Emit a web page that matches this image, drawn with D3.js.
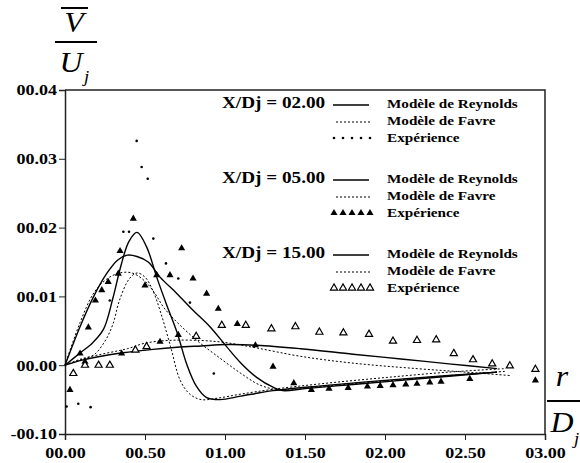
<!DOCTYPE html>
<html>
<head>
<meta charset="utf-8">
<script src="https://cdn.jsdelivr.net/npm/d3@7"></script>
<style>
  body { margin: 0; background: #fff; }
  svg { display: block; }
  text { font-family: "Liberation Serif", "Times New Roman", serif; fill: #000; }
</style>
</head>
<body>
<div id="chart"></div>
<script>
// r/Dj on x, Vbar/Uj on y
const xTicks = [0, 0.5, 1, 1.5, 2, 2.5, 3];
const xTickLabels = ['00.00', '00.50', '01.00', '01.50', '02.00', '02.50', '03.00'];
const yTicks = [-0.01, 0, 0.01, 0.02, 0.03, 0.04];
const yTickLabels = ['-00.10', '00.00', '00.01', '00.02', '00.03', '00.04'];

const reynolds2 = [[0, 0], [0.09, 0.0017], [0.17, 0.0032], [0.24, 0.0052], [0.30, 0.0098], [0.35, 0.0145], [0.40, 0.0180], [0.45, 0.0193], [0.51, 0.0172], [0.573, 0.0128], [0.635, 0.0088], [0.70, 0.0048], [0.76, 0.0002], [0.82, -0.003], [0.885, -0.0047], [0.97, -0.005], [1.1, -0.0045], [1.3, -0.0037], [1.6, -0.003], [2.0, -0.0022], [2.4, -0.0015], [2.7, -0.001]];
const favre2 = [[0, 0], [0.1, 0.0008], [0.18, 0.0015], [0.25, 0.0035], [0.3, 0.006], [0.34, 0.0094], [0.4, 0.0125], [0.45, 0.0134], [0.5, 0.0128], [0.55, 0.0108], [0.6, 0.0075], [0.66, 0.0027], [0.72, -0.0022], [0.78, -0.0042], [0.85, -0.005], [0.95, -0.0048], [1.1, -0.0042], [1.3, -0.0035], [1.6, -0.0027], [2.0, -0.0018], [2.4, -0.001], [2.75, -0.0005]];
const reynolds5 = [[0, 0], [0.094, 0.0056], [0.177, 0.0099], [0.26, 0.0133], [0.33, 0.0153], [0.39, 0.016], [0.45, 0.0158], [0.52, 0.015], [0.594, 0.0128], [0.70, 0.0104], [0.80, 0.008], [0.906, 0.0056], [1.01, 0.0027], [1.1, 0.0003], [1.2, -0.0018], [1.3, -0.0032], [1.36, -0.0037], [1.5, -0.0034], [1.8, -0.0028], [2.1, -0.0022], [2.4, -0.0016], [2.7, -0.001]];
const favre5 = [[0, 0], [0.094, 0.0062], [0.18, 0.0105], [0.26, 0.0125], [0.34, 0.0134], [0.42, 0.0134], [0.5, 0.0122], [0.56, 0.0105], [0.62, 0.0083], [0.72, 0.0058], [0.84, 0.0033], [0.97, 0.001], [1.1, -0.0012], [1.22, -0.0029], [1.35, -0.0036], [1.6, -0.0031], [2.0, -0.0023], [2.4, -0.0015], [2.75, -0.0009]];
const reynolds15 = [[0, 0], [0.1, 0.0007], [0.2, 0.0012], [0.36, 0.0018], [0.55, 0.0023], [0.7, 0.0026], [0.85, 0.0028], [1.01, 0.003], [1.2, 0.0029], [1.47, 0.0024], [1.8, 0.0016], [2.1, 0.0009], [2.4, 0.0002], [2.7, -0.0005]];
const favre15 = [[0, 0], [0.1, 0.0009], [0.25, 0.0017], [0.39, 0.0024], [0.5, 0.0032], [0.65, 0.0036], [0.84, 0.0036], [1.0, 0.0033], [1.2, 0.0025], [1.47, 0.0013], [1.8, 0.0003], [2.2, -0.0005], [2.5, -0.001], [2.78, -0.0015]];

const exp2 = [[0.01, -0.006], [0.083, -0.0056], [0.16, -0.0061], [0.28, 0.0094], [0.365, 0.0194], [0.40, 0.0194], [0.448, 0.0326], [0.479, 0.0288], [0.517, 0.0271], [0.552, 0.0184], [0.631, 0.0148], [0.708, 0.0126], [0.781, 0.0091], [0.93, -0.0012]];
const exp5 = [[0.031, -0.0036], [0.094, 0.0017], [0.125, 0.0005], [0.146, 0.0055], [0.19, 0.0094], [0.23, 0.0109], [0.27, 0.0121], [0.333, 0.0133], [0.344, 0.0166], [0.354, 0.0017], [0.427, 0.0213], [0.5, 0.0116], [0.573, 0.0131], [0.594, 0.0034], [0.656, 0.0131], [0.708, 0.0044], [0.729, 0.017], [0.80, 0.0126], [0.885, 0.0104], [0.958, 0.0082], [1.077, 0.006], [1.19, 0.0029], [1.30, -0.0002], [1.43, -0.0026], [1.54, -0.0036], [1.65, -0.0034], [1.77, -0.0033], [1.89, -0.0031], [1.97, -0.003], [2.05, -0.0029], [2.13, -0.0028], [2.2, -0.0027], [2.28, -0.0025], [2.35, -0.0024], [2.53, -0.002], [2.94, -0.0022]];
const exp15 = [[0.052, -0.0012], [0.125, 0.0], [0.21, 0.0], [0.28, 0.0], [0.44, 0.0022], [0.51, 0.0027], [0.82, 0.0042], [0.98, 0.0058], [1.13, 0.0058], [1.29, 0.0053], [1.44, 0.0056], [1.59, 0.0048], [1.74, 0.0047], [1.9, 0.0045], [2.05, 0.0035], [2.2, 0.0036], [2.32, 0.0037], [2.43, 0.0017], [2.55, 0.0008], [2.67, 0.0002], [2.78, -0.0001], [2.94, -0.0006]];

const legendGroups = ['X/Dj = 02.00', 'X/Dj = 05.00', 'X/Dj = 15.00'];
const legendLabels = ['Modèle de Reynolds', 'Modèle de Favre', 'Expérience'];

const W = 580;
const H = 463;
const margin = { top: 90, right: 35, bottom: 29, left: 65 };
const stretch = 1.2; // the original lettering is wider than Times

const svg = d3.select('#chart').append('svg')
  .attr('width', W)
  .attr('height', H);

const x = d3.scaleLinear().domain([0, 3]).range([margin.left, W - margin.right]);
const y = d3.scaleLinear().domain([-0.01, 0.04]).range([H - margin.bottom, margin.top]);

// wide text placed at (px, py)
function wideText(parent, px, py, str, size, opts = {}) {
  return parent.append('text')
    .attr('transform', `translate(${px},${py}) scale(${opts.sx || stretch},1)`)
    .attr('text-anchor', opts.anchor || 'start')
    .style('font-size', `${size}px`)
    .style('font-weight', opts.italic ? 'normal' : 'bold')
    .style('font-style', opts.italic ? 'italic' : 'normal')
    .text(str);
}

// frame: top and right
svg.append('path')
  .attr('d', `M${x(0)},${y(0.04)}H${x(3)}V${y(-0.01)}`)
  .attr('fill', 'none')
  .attr('stroke', '#222')
  .attr('stroke-width', 1.5);

// x axis, minor ticks every 0.05
const xAxis = svg.append('g').attr('transform', `translate(0,${y(-0.01)})`);
xAxis.call(d3.axisBottom(x).tickValues(d3.range(0, 3.001, 0.05)).tickSize(4).tickFormat(''));
xAxis.call(d3.axisBottom(x).tickValues(xTicks).tickSize(6).tickFormat((d, i) => xTickLabels[i]));
xAxis.selectAll('.domain').attr('stroke', '#222').attr('stroke-width', 1.5);
xAxis.selectAll('line').attr('stroke', '#222');
xAxis.selectAll('text')
  .attr('dy', 0)
  .attr('y', 24)
  .attr('transform', `scale(${stretch},1)`)
  .style('font-size', '15px')
  .style('font-weight', 'bold')
  .style('font-family', '"Liberation Serif", serif');

const yAxis = svg.append('g').attr('transform', `translate(${x(0)},0)`);
yAxis.call(d3.axisLeft(y).tickValues(d3.range(-0.01, 0.0401, 0.001)).tickSize(4).tickFormat(''));
yAxis.call(d3.axisLeft(y).tickValues(yTicks).tickSize(6).tickFormat((d, i) => yTickLabels[i]));
yAxis.selectAll('.domain').attr('stroke', '#222').attr('stroke-width', 1.5);
yAxis.selectAll('line').attr('stroke', '#222');
yAxis.selectAll('text')
  .attr('x', -8 / stretch)
  .attr('transform', `scale(${stretch},1)`)
  .style('font-size', '15px')
  .style('font-weight', 'bold')
  .style('font-family', '"Liberation Serif", serif');

// model curves
const line = d3.line()
  .x(d => x(d[0]))
  .y(d => y(d[1]))
  .curve(d3.curveCatmullRom.alpha(0.5));

const curves = [
  { data: reynolds2, dash: null },
  { data: favre2, dash: '2,2' },
  { data: reynolds5, dash: null },
  { data: favre5, dash: '2,2' },
  { data: reynolds15, dash: null },
  { data: favre15, dash: '2,2' },
];

svg.selectAll('.curve')
  .data(curves)
  .enter()
  .append('path')
  .attr('class', 'curve')
  .attr('d', d => line(d.data))
  .attr('fill', 'none')
  .attr('stroke', '#000')
  .attr('stroke-width', d => (d.dash ? 1 : 1.4))
  .attr('stroke-dasharray', d => d.dash);

// experiment points
const tri = d3.symbol().type(d3.symbolTriangle).size(22);

svg.selectAll('.exp2')
  .data(exp2)
  .enter()
  .append('circle')
  .attr('class', 'exp2')
  .attr('cx', d => x(d[0]))
  .attr('cy', d => y(d[1]))
  .attr('r', 1.3)
  .attr('fill', '#000');

svg.selectAll('.exp5')
  .data(exp5)
  .enter()
  .append('path')
  .attr('class', 'exp5')
  .attr('transform', d => `translate(${x(d[0])},${y(d[1])})`)
  .attr('d', tri)
  .attr('fill', '#000');

svg.selectAll('.exp15')
  .data(exp15)
  .enter()
  .append('path')
  .attr('class', 'exp15')
  .attr('transform', d => `translate(${x(d[0])},${y(d[1])})`)
  .attr('d', tri)
  .attr('fill', '#fff')
  .attr('stroke', '#000')
  .attr('stroke-width', 1.2);

// legend, three blocks
const legend = svg.append('g');
legendGroups.forEach((title, i) => {
  const g = legend.append('g').attr('transform', `translate(0,${108 + i * 75})`);
  wideText(g, 222, 0, title, 16);
  g.append('line')
    .attr('x1', 333).attr('x2', 369)
    .attr('y1', -3).attr('y2', -3)
    .attr('stroke', '#000')
    .attr('stroke-width', 1.4);
  g.append('line')
    .attr('x1', 336).attr('x2', 372)
    .attr('y1', 14).attr('y2', 14)
    .attr('stroke', '#000')
    .attr('stroke-dasharray', '2,2');
  d3.range(5).forEach((k) => {
    const cx = 334 + k * 9;
    if (i === 0) {
      g.append('circle').attr('cx', cx).attr('cy', 30).attr('r', 1.3).attr('fill', '#000');
    } else {
      g.append('path')
        .attr('transform', `translate(${cx},${30})`)
        .attr('d', tri)
        .attr('fill', i === 1 ? '#000' : '#fff')
        .attr('stroke', i === 1 ? null : '#000')
        .attr('stroke-width', 1.2);
    }
  });
  legendLabels.forEach((lab, j) => {
    wideText(g, 387, j * 17, lab, 13, { sx: 1.17 });
  });
});

// axis titles as fractions
const yt = svg.append('g');
wideText(yt, 74, 32, 'V', 29, { italic: true, anchor: 'middle', sx: 1.1 });
yt.append('line').attr('x1', 61).attr('x2', 88).attr('y1', 8).attr('y2', 8)
  .attr('stroke', '#000').attr('stroke-width', 2);
yt.append('line').attr('x1', 55).attr('x2', 97).attr('y1', 42).attr('y2', 42)
  .attr('stroke', '#000').attr('stroke-width', 2);
wideText(yt, 71, 72, 'U', 29, { italic: true, anchor: 'middle', sx: 1.1 });
wideText(yt, 84, 82, 'j', 17, { italic: true, sx: 1.1 });

const xt = svg.append('g');
wideText(xt, 562, 386, 'r', 29, { italic: true, anchor: 'middle', sx: 1.1 });
xt.append('line').attr('x1', 547).attr('x2', 580).attr('y1', 401).attr('y2', 401)
  .attr('stroke', '#000').attr('stroke-width', 2);
wideText(xt, 562, 432, 'D', 29, { italic: true, anchor: 'middle', sx: 1.1 });
wideText(xt, 574, 444, 'j', 17, { italic: true, sx: 1.1 });
</script>
</body>
</html>
